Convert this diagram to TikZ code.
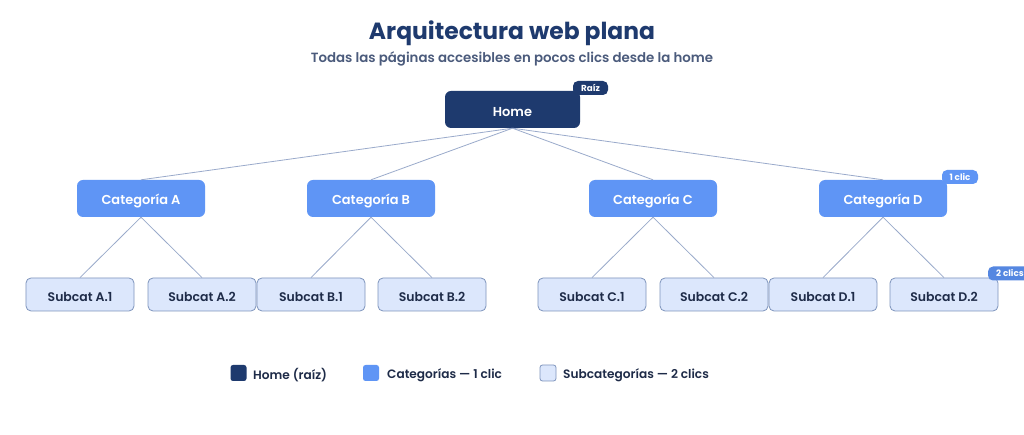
\documentclass[tikz,border=0pt]{standalone}
\usepackage{fontspec}
\setmainfont{Poppins}
\newfontfamily\psemi{Poppins}[UprightFont=* SemiBold]
\newfontfamily\pmed{Poppins}[UprightFont=* Medium]
\definecolor{navy}{HTML}{1E3A6E}
\definecolor{catblue}{HTML}{5F95F5}
\definecolor{subfill}{HTML}{DCE7FC}
\definecolor{subdraw}{HTML}{7E94BC}
\definecolor{linec}{HTML}{9AAACB}
\definecolor{subtext}{HTML}{1E2B48}
\definecolor{subt}{HTML}{4B5B7C}
\begin{document}
\begin{tikzpicture}[x=1bp,y=-1bp,
  homebox/.style={fill=navy,rounded corners=6bp,minimum width=135bp,minimum height=37bp,inner sep=0},
  catbox/.style={fill=catblue,rounded corners=6bp,minimum width=128bp,minimum height=37bp,inner sep=0},
  subbox/.style={fill=subfill,draw=subdraw,line width=0.8bp,rounded corners=5bp,minimum width=108bp,minimum height=33bp,inner sep=0},
  lbl/.style={inner sep=0,anchor=center,yshift=-2.5bp},
  wlbl/.style={lbl,text=white,font=\psemi\fontsize{13}{15}\selectfont},
  dlbl/.style={lbl,text=subtext,font=\psemi\fontsize{12.5}{15}\selectfont},
  badge/.style={rounded corners=5bp,inner sep=0,minimum height=14bp,text=white,font=\bfseries\fontsize{8.8}{9}\selectfont},
  conn/.style={draw=linec,line width=0.8bp},
  legsq/.style={rounded corners=2.5bp,minimum width=16bp,minimum height=16bp,inner sep=0},
  legtxt/.style={anchor=west,text=subtext,font=\psemi\fontsize{12.2}{14}\selectfont,inner sep=0}
]
\path[use as bounding box] (0,0) rectangle (1024,435);
\fill[white] (0,0) rectangle (1024,435);
\begin{scope}
\clip (0,0) rectangle (1024,435);
\node[font=\bfseries\fontsize{23.5}{28}\selectfont,text=navy] (title) at (512,33) {Arquitectura web plana};
\node[font=\psemi\fontsize{13.4}{16}\selectfont,text=subt] (sub) at (512,59) {Todas las páginas accesibles en pocos clics desde la home};

\node[homebox] (home) at (512.5,109.5) {};
\node[catbox] (ca) at (141,198.5) {};
\node[catbox] (cb) at (371,198.5) {};
\node[catbox] (cc) at (653,198.5) {};
\node[catbox] (cd) at (883,198.5) {};

\node[subbox] (a1) at (80,294.5) {};
\node[subbox] (a2) at (202,294.5) {};
\node[subbox] (b1) at (311,294.5) {};
\node[subbox] (b2) at (432,294.5) {};
\node[subbox] (c1) at (592,294.5) {};
\node[subbox] (c2) at (714,294.5) {};
\node[subbox] (d1) at (823,294.5) {};
\node[subbox] (d2) at (944,294.5) {};

\node[wlbl] (homel) at (home) {Home};
\node[wlbl] (cal) at (ca) {Categoría A};
\node[wlbl] (cbl) at (cb) {Categoría B};
\node[wlbl] (ccl) at (cc) {Categoría C};
\node[wlbl] (cdl) at (cd) {Categoría D};
\node[dlbl] (a1l) at (a1) {Subcat A.1};
\node[dlbl] (a2l) at (a2) {Subcat A.2};
\node[dlbl] (b1l) at (b1) {Subcat B.1};
\node[dlbl] (b2l) at (b2) {Subcat B.2};
\node[dlbl] (c1l) at (c1) {Subcat C.1};
\node[dlbl] (c2l) at (c2) {Subcat C.2};
\node[dlbl] (d1l) at (d1) {Subcat D.1};
\node[dlbl] (d2l) at (d2) {Subcat D.2};

\foreach \c in {ca,cb,cc,cd} \draw[conn] (home.south) -- (\c.north);
\draw[conn] (ca.south) -- (a1.north); \draw[conn] (ca.south) -- (a2.north);
\draw[conn] (cb.south) -- (b1.north); \draw[conn] (cb.south) -- (b2.north);
\draw[conn] (cc.south) -- (c1.north); \draw[conn] (cc.south) -- (c2.north);
\draw[conn] (cd.south) -- (d1.north); \draw[conn] (cd.south) -- (d2.north);

\node[badge,fill=navy,minimum width=35bp] (braiz) at (590.5,88) {\raisebox{-1bp}{Raíz}};
\node[badge,fill=catblue,minimum width=36bp] (bclic) at (960,177) {\raisebox{-1bp}{1 clic}};
\node[badge,fill=catblue!85!navy,minimum width=44bp] (bclics) at (1010,273.5) {\raisebox{-1bp}{2 clics}};

\node[legsq,fill=navy] (l1) at (238.5,373) {};
\node[legtxt] (t1) at (253,375) {Home (raíz)};
\node[legsq,fill=catblue] (l2) at (371,373) {};
\node[legtxt] (t2) at (387,375) {Categorías — 1 clic};
\node[legsq,fill=subfill,draw=subdraw,line width=0.8bp] (l3) at (548,373) {};
\node[legtxt] (t3) at (563,375) {Subcategorías — 2 clics};
\end{scope}
\end{tikzpicture}
\end{document}
